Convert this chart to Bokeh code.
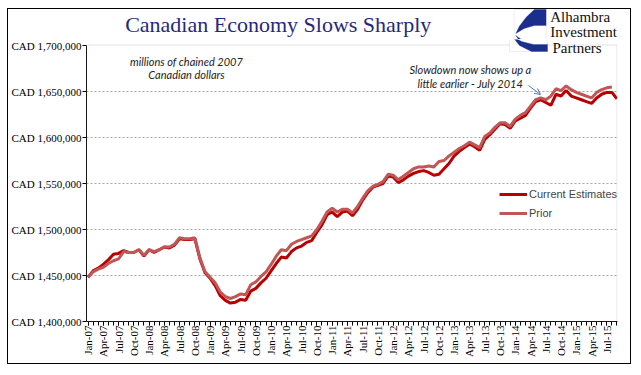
import math
from bokeh.plotting import figure
from bokeh.layouts import column
from bokeh.models import (Range1d, FixedTicker, Label, Arrow, OpenHead, PolyAnnotation,
                          BoxAnnotation, ColumnDataSource)
from bokeh.embed import file_html
from bokeh.resources import INLINE

# ---------------- data (thousands of chained 2007 CAD, monthly from Jan-07) ----------------
current_estimates = [
    1448, 1455, 1458, 1462, 1467, 1473, 1474, 1477, 1475, 1475, 1478, 1471,   # 2007
    1478, 1475, 1478, 1481, 1480, 1483, 1490, 1489, 1489, 1490, 1468, 1453,   # 2008
    1447, 1439, 1428, 1423, 1420, 1421, 1424, 1423, 1433, 1436, 1442, 1447,   # 2009
    1455, 1463, 1470, 1469, 1476, 1480, 1482, 1486, 1488, 1497, 1505, 1516,   # 2010
    1519, 1514, 1519, 1520, 1515, 1522, 1532, 1540, 1546, 1548, 1550, 1558,   # 2011
    1557, 1551, 1554, 1558, 1561, 1563, 1564, 1562, 1559, 1560, 1566, 1572,   # 2012
    1580, 1585, 1589, 1593, 1590, 1586, 1598, 1603, 1609, 1615, 1614, 1610,   # 2013
    1618, 1621, 1624, 1632, 1639, 1641, 1638, 1635, 1647, 1645, 1651, 1645,   # 2014
    1643, 1641, 1639, 1637, 1643, 1647, 1649, 1649, 1642,                     # 2015
]
prior = [
    1448, 1454, 1457, 1459, 1463, 1466, 1468, 1476, 1475, 1475, 1478, 1472,   # 2007
    1478, 1476, 1478, 1481, 1481, 1484, 1491, 1490, 1490, 1491, 1469, 1454,   # 2008
    1448, 1442, 1432, 1427, 1425, 1427, 1430, 1429, 1440, 1443, 1449, 1454,   # 2009
    1462, 1471, 1478, 1477, 1484, 1487, 1489, 1491, 1493, 1500, 1509, 1519,   # 2010
    1523, 1519, 1522, 1522, 1518, 1525, 1534, 1542, 1547, 1549, 1552, 1560,   # 2011
    1559, 1554, 1558, 1562, 1566, 1568, 1568, 1569, 1568, 1574, 1575, 1580,   # 2012
    1584, 1588, 1591, 1595, 1592, 1589, 1601, 1605, 1611, 1616, 1616, 1612,   # 2013
    1620, 1624, 1627, 1634, 1641, 1643, 1641, 1645, 1653, 1651, 1656, 1652,   # 2014
    1649, 1647, 1645, 1643, 1649, 1652, 1654, 1655,                           # 2015
]
month_names = ["Jan", "Feb", "Mar", "Apr", "May", "Jun", "Jul", "Aug", "Sep", "Oct", "Nov", "Dec"]
years = ["07", "08", "09", "10", "11", "12", "13", "14", "15"]
months = [f"{m}-{y}" for y in years for m in month_names][:len(current_estimates)]
y_ticks = [1400000, 1450000, 1500000, 1550000, 1600000, 1650000, 1700000]
y_tick_labels = ["CAD 1,400,000", "CAD 1,450,000", "CAD 1,500,000", "CAD 1,550,000",
                 "CAD 1,600,000", "CAD 1,650,000", "CAD 1,700,000"]
title_text = "Canadian Economy Slows Sharply"
logo_lines = ["Alhambra", "Investment", "Partners"]

# ---------------- layout geometry (picture px) ----------------
W = 632
HEAD_H = 39                 # header strip: picture y 0..39
MAIN_H = 326                # main chart: picture y 39..365
F_LEFT, F_RIGHT, F_TOP, F_BOT = 86, 617, 39, 321
Y_TOP_PX = 45               # where 1,700,000 sits
Y0, Y1 = 1400000, 1700000
y_top_val = Y1 + (Y_TOP_PX - F_TOP) * (Y1 - Y0) / (F_BOT - Y_TOP_PX)

# ---------------- header (frame = whole strip, picture coords) ----------------
head = figure(width=W, height=HEAD_H, output_backend="svg", toolbar_location=None,
              x_range=Range1d(0, W), y_range=Range1d(HEAD_H, 0), title=None,
              x_axis_type=None, y_axis_type=None,
              min_border_left=0, min_border_right=0, min_border_top=0, min_border_bottom=0)
head.grid.visible = False
head.outline_line_color = None
head.background_fill_color = None
head.border_fill_color = None

head.add_layout(Label(x=46, y=24, text=title_text, text_font="Liberation Serif",
                      text_font_size="22px", text_color="#1F2A7A", text_baseline="middle"))

# ---------------- main chart ----------------
p = figure(width=W, height=MAIN_H, output_backend="svg", toolbar_location=None, title=None,
           x_range=Range1d(-0.3, 104.1), y_range=Range1d(Y0, y_top_val),
           min_border_left=F_LEFT, min_border_top=0, min_border_right=W - F_RIGHT,
           min_border_bottom=HEAD_H + MAIN_H - F_BOT)
p.background_fill_color = "white"
p.border_fill_color = None
p.outline_line_color = None

src_c = ColumnDataSource(dict(x=list(range(len(current_estimates))),
                              y=[v * 1000 for v in current_estimates]))
src_p = ColumnDataSource(dict(x=list(range(len(prior))), y=[v * 1000 for v in prior]))
p.line("x", "y", source=src_c, line_color="#B80000", line_width=3, legend_label="Current Estimates")
p.line("x", "y", source=src_p, line_color="#C25555", line_width=3, legend_label="Prior")

# grid
p.xgrid.visible = False
p.ygrid.ticker = FixedTicker(ticks=y_ticks[:-1])
p.ygrid.grid_line_color = "#A8A8A8"
p.ygrid.grid_line_dash = "2 2"
p.ygrid.grid_line_width = 1


def sx(px):
    return px - F_LEFT


def sy(py):
    return F_BOT - py


# plot-area box (solid grey top and right edges)
p.add_layout(BoxAnnotation(left=sx(F_LEFT), right=sx(F_RIGHT - 0.5), bottom=sy(F_BOT),
                           top=sy(Y_TOP_PX - 0.5),
                           left_units="screen", right_units="screen",
                           bottom_units="screen", top_units="screen",
                           fill_alpha=0, line_color="#9E9E9E", line_width=1))

# y axis
ya = p.yaxis[0]
ya.bounds = (Y0, Y1)
ya.ticker = FixedTicker(ticks=y_ticks)
ya.major_label_overrides = {t: l for t, l in zip(y_ticks, y_tick_labels)}
ya.major_label_text_font = "Liberation Serif"
ya.major_label_text_font_size = "11px"
ya.major_label_text_color = "black"
ya.major_label_standoff = 1
ya.axis_line_color = "black"
ya.major_tick_line_color = "black"
ya.major_tick_out = 4
ya.major_tick_in = 0
ya.minor_tick_line_color = None

# x axis
xa = p.xaxis[0]
label_idx = list(range(0, len(months), 3))
xa.ticker = FixedTicker(ticks=label_idx, minor_ticks=list(range(0, len(months) + 1)))
xa.major_label_overrides = {i: months[i] for i in label_idx}
xa.major_label_orientation = math.pi / 2
xa.major_label_text_font = "Liberation Serif"
xa.major_label_text_font_size = "11px"
xa.major_label_text_color = "black"
xa.major_label_standoff = 0
xa.axis_line_color = "black"
xa.major_tick_line_color = "black"
xa.minor_tick_line_color = "black"
xa.major_tick_out = 4
xa.major_tick_in = 0
xa.minor_tick_out = 4
xa.minor_tick_in = 0

# legend
lg = p.legend[0]
lg.location = (413, 100)
lg.background_fill_alpha = 0
lg.border_line_alpha = 0
lg.label_text_font = "Liberation Sans"
lg.label_text_font_size = "11px"
lg.glyph_width = 28
lg.glyph_height = 16
lg.label_height = 16
lg.label_standoff = 2
lg.spacing = 3
lg.padding = 0
lg.margin = 0

# notes
for t, py in [("millions of chained 2007", 61), ("Canadian dollars", 74)]:
    p.add_layout(Label(x=sx(186), y=sy(py), x_units="screen", y_units="screen", text=t,
                       text_font="Lato", text_font_style="italic", text_font_size="11px",
                       text_color="#222222", text_align="center", text_baseline="middle"))
for t, py in [("Slowdown now shows up a", 69), ("little earlier - July 2014", 83)]:
    p.add_layout(Label(x=sx(470), y=sy(py), x_units="screen", y_units="screen", text=t,
                       text_font="Lato", text_font_style="italic", text_font_size="11px",
                       text_color="#222222", text_align="center", text_baseline="middle"))
p.add_layout(Arrow(x_start=sx(528), y_start=sy(85), x_end=sx(540), y_end=sy(94),
                   start_units="screen", end_units="screen", line_color="#5B7FB0", line_width=1,
                   end=OpenHead(size=6, line_color="#5B7FB0", line_width=1)))

# ---------------- logo (icon drawn in both strips; each clips its own part) ----------------
LX, LY = 509, 9
blade = [(38, 0), (24, 0), (14, 8), (6, 17), (2, 24), (12, 19), (24, 16), (38, 16)]
lower = [(2, 26), (12, 32), (24, 35), (38, 35), (38, 42), (22, 42), (10, 36)]
box = [(0, 0), (38, 0), (38, 42), (0, 42)]


def add_logo_icon(fig, fx, fy, units):
    fig.add_layout(PolyAnnotation(xs=[fx(LX + a) for a, b in box], ys=[fy(LY + b) for a, b in box],
                                  xs_units=units, ys_units=units, fill_color="white",
                                  fill_alpha=1, line_color="#C8C8C8", line_width=1))
    for shape in (blade, lower):
        fig.add_layout(PolyAnnotation(xs=[fx(LX + a) for a, b in shape],
                                      ys=[fy(LY + b) for a, b in shape],
                                      xs_units=units, ys_units=units, fill_color="#1A2E8C",
                                      fill_alpha=1, line_color="#1A2E8C"))


add_logo_icon(head, lambda v: v, lambda v: v, "data")
add_logo_icon(p, sx, sy, "screen")

# logo text: first two lines in the header strip, the third inside the chart area
head.add_layout(Label(x=552, y=16, text=logo_lines[0], text_font="Liberation Serif",
                      text_font_size="15px", text_color="#111111", text_baseline="middle"))
head.add_layout(Label(x=552, y=31, text=logo_lines[1], text_font="Liberation Serif",
                      text_font_size="15px", text_color="#111111", text_baseline="middle"))
p.add_layout(Label(x=sx(552), y=sy(47), x_units="screen", y_units="screen", text=logo_lines[2],
                   text_font="Liberation Serif", text_font_size="15px", text_color="#111111",
                   text_baseline="middle"))

border_css = ("linear-gradient(#000,#000) 7px 8px / 1px 356px no-repeat, "
              "linear-gradient(#000,#000) 630px 8px / 1px 356px no-repeat, "
              "linear-gradient(#000,#000) 7px 8px / 624px 1px no-repeat, "
              "linear-gradient(#000,#000) 7px 363px / 624px 1px no-repeat, #ffffff")
root = column(head, p, spacing=0, styles={"background": border_css})

open("out.html", "w").write(file_html(root, INLINE))
